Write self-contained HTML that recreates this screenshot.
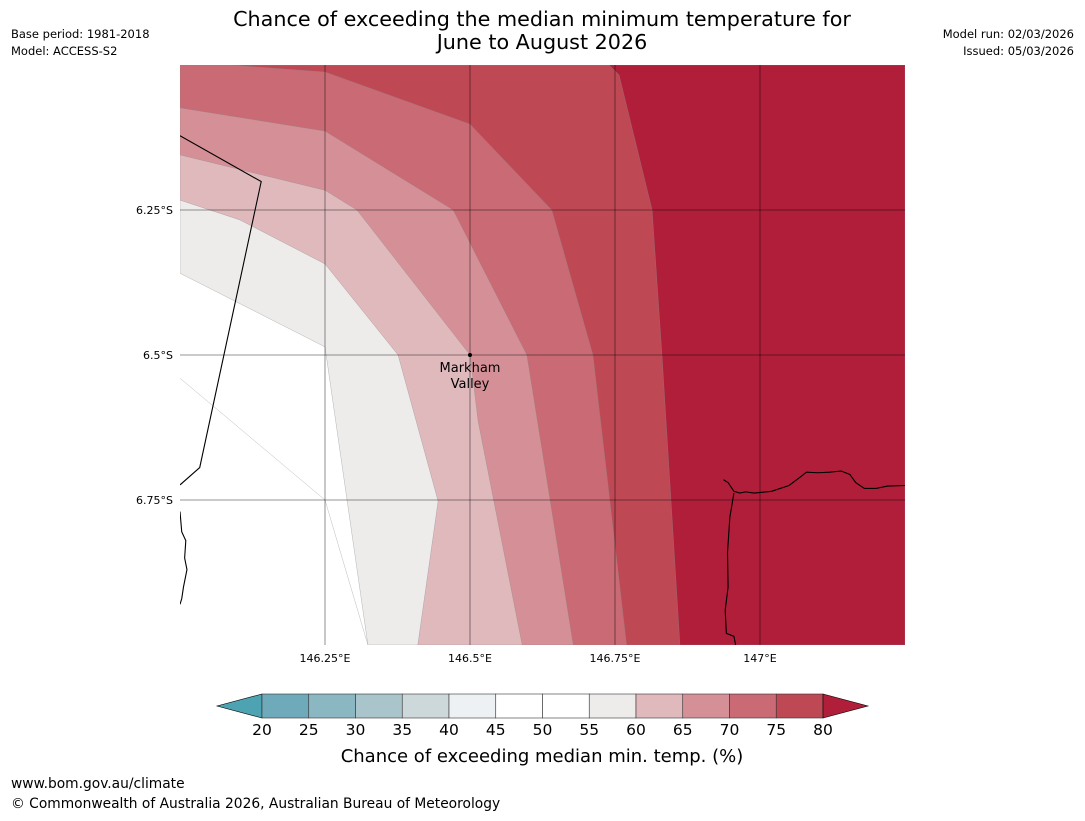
<!DOCTYPE html>
<html><head><meta charset="utf-8"><style>
body{margin:0;background:#fff;font-family:"Liberation Sans","DejaVu Sans",sans-serif}
svg text{font-family:"DejaVu Sans","Liberation Sans",sans-serif}
</style></head><body>
<svg id="c" width="1085" height="816" viewBox="0 0 1085 816" xmlns="http://www.w3.org/2000/svg">
<text x="542" y="26" text-anchor="middle" font-size="20.7">Chance of exceeding the median minimum temperature for</text>
<text x="542" y="49" text-anchor="middle" font-size="20.7">June to August 2026</text>
<text x="11" y="38" font-size="11.5">Base period: 1981-2018</text>
<text x="11" y="55" font-size="11.5">Model: ACCESS-S2</text>
<text x="1074" y="38" font-size="11.5" text-anchor="end">Model run: 02/03/2026</text>
<text x="1074" y="55" font-size="11.5" text-anchor="end">Issued: 05/03/2026</text>
<defs><clipPath id="mc"><rect x="180" y="65" width="725" height="580"/></clipPath></defs>
<g id="map" clip-path="url(#mc)"></g>
<g id="grid"></g>
<g id="cb"></g>
<text x="542" y="762" text-anchor="middle" font-size="18">Chance of exceeding median min. temp. (%)</text>
<text x="11" y="788" font-size="13.8">www.bom.gov.au/climate</text>
<text x="11" y="808" font-size="13.8">© Commonwealth of Australia 2026, Australian Bureau of Meteorology</text>
</svg>
<script>
const lonTicks=[146.25,146.5,146.75,147.0];
const lonLabels=["146.25°E","146.5°E","146.75°E","147°E"];
const latTicks=[6.25,6.5,6.75];
const latLabels=["6.25°S","6.5°S","6.75°S"];
const levels=[20,25,30,35,40,45,50,55,60,65,70,75,80];
const bandColors=["#4ea3b3","#6eaab9","#8ab7c2","#a9c5cb","#cdd8da","#edf1f3","#ffffff","#ffffff","#eeeceb","#e0b9bd","#d59097","#c96a74","#bf4855","#b01e3a"];
// contour boundaries [lon, lat(S)]
const c60=[[146.0,6.359],[146.25,6.486],[146.324,7.0]];
const c65=[[146.0,6.233],[146.103,6.267],[146.25,6.343],[146.376,6.5],[146.445,6.752],[146.41,7.0]];
const c70=[[146.0,6.155],[146.25,6.216],[146.305,6.25],[146.5,6.5],[146.514,6.614],[146.59,7.0]];
const c75=[[146.0,6.074],[146.25,6.114],[146.471,6.25],[146.598,6.5],[146.678,7.0]];
const c80=[[146.086,6.0],[146.25,6.012],[146.5,6.102],[146.641,6.25],[146.712,6.5],[146.77,7.0]];
const c85=[[146.74,6.0],[146.757,6.017],[146.814,6.25],[146.831,6.5],[146.862,7.0]];
const fillLevels=[60,65,70,75,80,85];
const fillColors=["#eeeceb","#e0b9bd","#d59097","#c96a74","#bf4855","#b01e3a"];
const bounds=[c60,c65,c70,c75,c80,c85];
const coastW=[[146.0,6.122],[146.14,6.201],[146.034,6.694],[146.0,6.724]];
const coastE=[[146.937,6.715],[146.945,6.72],[146.955,6.735],[146.965,6.738],[146.975,6.736],[146.99,6.738],[147.02,6.735],[147.05,6.725],[147.07,6.71],[147.08,6.702],[147.1,6.703],[147.12,6.702],[147.14,6.7],[147.155,6.706],[147.165,6.72],[147.18,6.73],[147.2,6.73],[147.22,6.726],[147.25,6.725]];
const coastE2=[[146.955,6.738],[146.948,6.78],[146.944,6.84],[146.945,6.9],[146.94,6.94],[146.942,6.98],[146.955,6.985],[146.958,7.0]];
const coastW2=[[146.0,6.77],[146.003,6.805],[146.01,6.82],[146.008,6.85],[146.012,6.87],[146.006,6.9],[146.003,6.92],[146.0,6.93]];
const X=lon=>180+(lon-146.0)*580, Y=lat=>65+(lat-6.0)*580;
const ns="http://www.w3.org/2000/svg";
function mk(p,t,a){const e=document.createElementNS(ns,t);for(const k in a)e.setAttribute(k,a[k]);p.appendChild(e);return e;}
const map=document.getElementById('map'),grid=document.getElementById('grid'),cb=document.getElementById('cb');
const bg=mk(map,'rect',{x:180,y:65,width:725,height:580,fill:'#ffffff'});


bounds.forEach((b,i)=>{
  const pts=b.map(p=>X(p[0])+','+Y(p[1])).join(' ');
  const poly=mk(map,'polygon',{points:pts+' 905,645 905,65 '+X(b[0][0])+',65 180,65',fill:fillColors[i],stroke:'#888',"stroke-width":0.3});
  
  
});
const thin=mk(map,'polyline',{points:X(146)+','+Y(6.54)+' '+X(146.25)+','+Y(6.75)+' '+X(146.324)+','+Y(7),fill:'none',stroke:'#aaa',"stroke-width":0.4});


[coastW,coastE,coastE2,coastW2].forEach((c,i)=>{
  const l=mk(map,'polyline',{points:c.map(p=>X(p[0])+','+Y(p[1])).join(' '),fill:'none',stroke:'#000',"stroke-width":1.1});
  
  
});
lonTicks.forEach((v,i)=>{
  const l=mk(grid,'line',{x1:X(v),x2:X(v),y1:65,y2:645,stroke:'#000',"stroke-opacity":0.55,"stroke-width":0.8});
  
  
  const t=mk(grid,'text',{x:X(v),y:662,"text-anchor":"middle","font-size":11});t.textContent=lonLabels[i];
  
  
});
latTicks.forEach((v,i)=>{
  const l=mk(grid,'line',{x1:180,x2:905,y1:Y(v),y2:Y(v),stroke:'#000',"stroke-opacity":0.55,"stroke-width":0.8});
  
  
  const t=mk(grid,'text',{x:173,y:Y(v)+4,"text-anchor":"end","font-size":11});t.textContent=latLabels[i];
  
  
});
const dot=mk(grid,'circle',{cx:X(146.5),cy:Y(6.5),r:2,fill:'#000'});


[["Markham",372],["Valley",388]].forEach(a=>{const t=mk(grid,'text',{x:X(146.5),y:a[1],"text-anchor":"middle","font-size":13});t.textContent=a[0];

});
// colorbar
const cx0=262,cx1=823,cy0=694,cy1=718,seg=(cx1-cx0)/(levels.length-1);
const CX=v=>cx0+(v-levels[0])/(levels[levels.length-1]-levels[0])*(cx1-cx0);
const lt=mk(cb,'polygon',{points:`${cx0},${cy0} ${cx0},${cy1} ${cx0-45},${(cy0+cy1)/2}`,fill:bandColors[0],stroke:'#000',"stroke-width":0.6});


for(let i=0;i<levels.length-1;i++){
  const r=mk(cb,'rect',{x:CX(levels[i]),y:cy0,width:seg,height:cy1-cy0,fill:bandColors[i+1],stroke:'#333',"stroke-width":0.6});
  
  
}
const rt=mk(cb,'polygon',{points:`${cx1},${cy0} ${cx1},${cy1} ${cx1+45},${(cy0+cy1)/2}`,fill:bandColors[13],stroke:'#000',"stroke-width":0.6});


levels.forEach(v=>{const t=mk(cb,'text',{x:CX(v),y:735,"text-anchor":"middle","font-size":15.5});t.textContent=v;

});
</script>
</body></html>
